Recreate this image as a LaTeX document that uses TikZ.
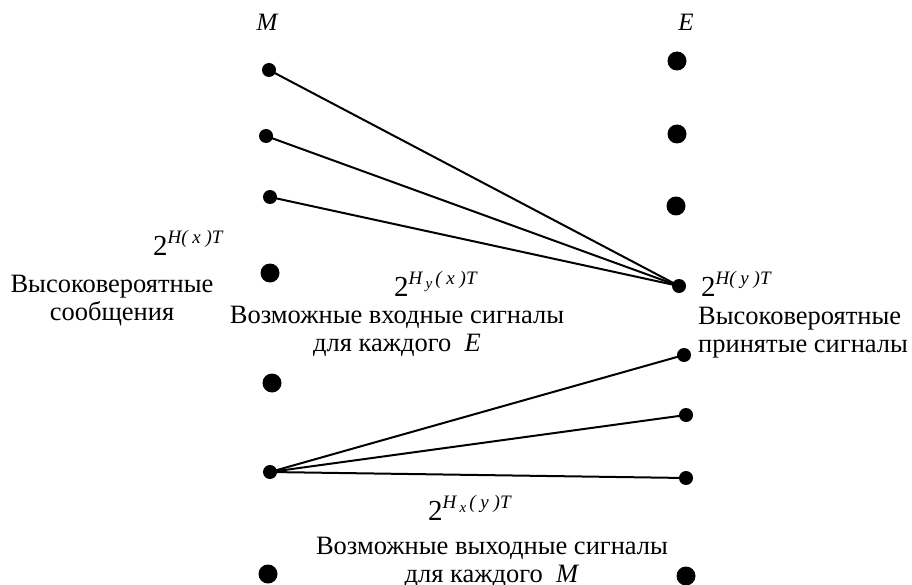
\documentclass[tikz,border=0pt]{standalone}
\usepackage{fontspec}
\setmainfont{Liberation Serif}
\begin{document}
\begin{tikzpicture}[x=1pt,y=-1pt,
  sdot/.style={circle,fill=black,inner sep=0pt,minimum size=14pt},
  bdot/.style={circle,fill=black,inner sep=0pt,minimum size=19pt},
  lbl/.style={font=\fontsize{26.5}{28}\selectfont,align=center,inner sep=0pt},
  ttl/.style={font=\fontsize{25}{25}\selectfont\itshape,inner sep=0pt},
  conn/.style={line width=2pt},
  pw/.style={inner sep=0pt,anchor=base west}]
\useasboundingbox (0,0) rectangle (912,585);
\newcommand{\pwr}[1]{{\fontsize{29}{29}\selectfont 2}\raisebox{12pt}{\fontsize{19}{19}\selectfont\itshape #1}}
\newcommand{\sbs}[1]{\,\raisebox{-4pt}{\fontsize{15}{15}\selectfont #1}\,}
% left column
\node[sdot] (m1) at (269,70) {};
\node[sdot] (m2) at (266,136) {};
\node[sdot] (m3) at (270,197) {};
\node[bdot] (m4) at (270,273) {};
\node[bdot] (m5) at (272,383) {};
\node[sdot] (m6) at (270,472) {};
\node[bdot] (m7) at (268,574) {};
% right column
\node[bdot] (e1) at (677,61) {};
\node[bdot] (e2) at (677,134) {};
\node[bdot] (e3) at (676,206) {};
\node[sdot] (e4) at (679,286) {};
\node[sdot] (e5) at (684,355) {};
\node[sdot] (e6) at (686,415) {};
\node[sdot] (e7) at (686,478) {};
\node[bdot] (e8) at (686,576) {};
% connectors
\draw[conn] (m1.center) -- (e4.center);
\draw[conn] (m2.center) -- (e4.center);
\draw[conn] (m3.center) -- (e4.center);
\draw[conn] (m6.center) -- (e5.center);
\draw[conn] (m6.center) -- (e6.center);
\draw[conn] (m6.center) -- (e7.center);
% labels
\node[ttl] (lm) at (267,22) {M};
\node[ttl] (le) at (686,22) {E};
\node[pw] (p1) at (153,255) {\pwr{H( x )T}};
\node[lbl] (t1) at (112,301) {Высоковероятные\\сообщения};
\node[pw] (p2) at (394,296) {\pwr{H\sbs{y}( x )T}};
\node[lbl] (t2) at (397,331) {Возможные входные сигналы\\для каждого~~\textit{E}};
\node[pw] (p3) at (701,296) {\pwr{H( y )T}};
\node[lbl,align=left,anchor=west] (t3) at (698,333) {Высоковероятные\\принятые сигналы};
\node[pw] (p4) at (428,520) {\pwr{H\sbs{x}( y )T}};
\node[lbl] (t4) at (492,562) {Возможные выходные сигналы\\для каждого~~\textit{M}};
\end{tikzpicture}
\end{document}
